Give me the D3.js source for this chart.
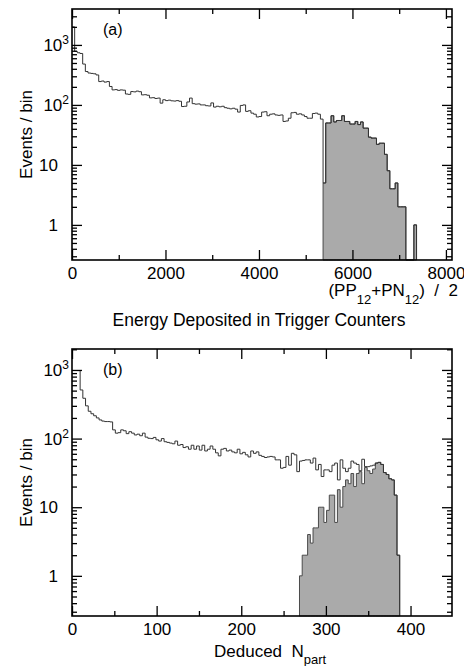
<!DOCTYPE html>
<html>
<head>
<meta charset="utf-8">
<script src="https://cdn.jsdelivr.net/npm/d3@7"></script>
<style>
body { margin: 0; background: #fff; }
svg text { font-family: "Liberation Sans", Arial, Helvetica, sans-serif; fill: #000; }
</style>
</head>
<body>
<div id="chart"></div>
<script>
// (a) energy in trigger counters, 140 bins over 0-8000
const energyBinWidth = 8000 / 140;
const energyAllEvents = [2000, 780, 740, 720, 480, 360, 340, 335, 330, 316,
    245, 250, 240, 245, 203, 178, 180, 175, 178, 176,
    152, 150, 167, 165, 170, 166, 147, 148, 145, 131,
    132, 128, 130, 107, 122, 118, 120, 117, 116, 118,
    115, 94, 95, 112, 130, 105, 103, 104, 100, 100,
    97, 96, 108, 92, 95, 93, 95, 90, 88, 86,
    88, 85, 76, 98, 100, 78, 80, 73, 70, 63,
    64, 76, 77, 66, 70, 71, 68, 67, 68, 53,
    54, 60, 74, 75, 70, 71, 68, 64, 60, 60,
    72, 73, 70, 58];
// central selection, starts at bin 94
const energyCentralFirstBin = 94;
const energyCentral = [5, 50, 50, 66, 52, 55, 55, 66, 53, 53,
    48, 48, 53, 47, 52, 41, 41, 29, 28, 28,
    22, 23, 23, 15, 8, 4, 4, 5, 2, 2,
    2, 0, 0, 0, 1];
const energyTicks = [0, 2000, 4000, 6000, 8000];
const energyMinorTicks = [1000, 3000, 5000, 7000];

// (b) deduced Npart, bin width 3.2
const nPartBinWidth = 3.2;
const nPartAllEvents = [0, 0, 980, 511, 387, 300, 250, 230, 215, 200,
    187, 180, 177, 177, 175, 134, 120, 122, 134, 130,
    118, 126, 120, 113, 116, 110, 120, 105, 101, 100,
    104, 96, 92, 100, 90, 88, 86, 84, 92, 80,
    82, 74, 76, 70, 80, 70, 78, 68, 80, 66,
    70, 78, 70, 62, 56, 70, 72, 66, 68, 64,
    62, 70, 60, 63, 58, 54, 66, 61, 64, 57,
    55, 53, 54, 55, 54, 49, 49, 37, 38, 55,
    41, 61, 58, 33, 47, 48, 49, 49, 44, 52,
    35, 42, 28, 35, 35, 33, 41, 44, 25, 49,
    37, 33, 37, 47, 44, 42, 34, 50, 39, 39,
    40, 41, 44, 45, 42, 32, 30, 26, 25, 15, 2];
const nPartCentralFirstBin = 84;
const nPartCentral = [1, 2, 2, 4, 3, 5, 5, 10, 10, 6,
    9, 15, 15, 6, 18, 10, 20, 25, 22, 31,
    20, 31, 33, 22, 38, 34, 31, 36, 44, 45,
    42, 32, 30, 26, 25, 15, 2];
const nPartTicks = [0, 100, 200, 300, 400];
const nPartMinorTicks = [50, 150, 250, 350];

const yMajorTicks = [1, 10, 100, 1000];

class LogHist {

    constructor(_config, _all, _central) {
        this.config = {
            parent: _config.parent,
            left: _config.left,
            top: _config.top,
            width: _config.width,
            height: _config.height,
            xMax: _config.xMax,
            yMin: _config.yMin,
            yMax: _config.yMax,
            binWidth: _config.binWidth,
            centralFirstBin: _config.centralFirstBin,
            xTicks: _config.xTicks,
            xMinorTicks: _config.xMinorTicks,
            tag: _config.tag
        }
        this.all = _all;
        this.central = _central;
        this.initVis();
    }

    initVis() {
        let vis = this;
        vis.width = vis.config.width;
        vis.height = vis.config.height;
        vis.xScale = d3.scaleLinear()
            .domain([0, vis.config.xMax])
            .range([0, vis.width]);
        vis.yScale = d3.scaleLog()
            .domain([vis.config.yMin, vis.config.yMax])
            .range([vis.height, 0]);
        vis.yv = (v) => v > 0 ? vis.yScale(v) : vis.height;

        vis.g = vis.config.parent.append('g')
            .attr('transform', `translate(${vis.config.left}, ${vis.config.top})`);

        // minor log ticks 2..9 per decade inside the domain
        vis.yMinor = [];
        for (let e = -1; e <= 3; e++) {
            for (let m = 2; m <= 9; m++) {
                const v = m * Math.pow(10, e);
                if (v > vis.config.yMin && v < vis.config.yMax) vis.yMinor.push(v);
            }
        }

        vis.chartG = vis.g.append('g');
        vis.axesG = vis.g.append('g');
        vis.drawAxes();
    }

    drawAxes() {
        let vis = this;
        const tickStyle = (g) => {
            g.select('.domain').remove();
            g.selectAll('.tick line').attr('stroke', '#000').attr('stroke-width', 1.3);
            g.attr('font-size', 17).attr('font-family', null);
        };

        // bottom
        vis.axesG.append('g')
            .attr('transform', `translate(0, ${vis.height})`)
            .call(d3.axisBottom(vis.xScale).tickValues(vis.config.xTicks)
                .tickSize(-10).tickPadding(7).tickFormat(d3.format('d')))
            .call(tickStyle);
        vis.axesG.append('g')
            .attr('transform', `translate(0, ${vis.height})`)
            .call(d3.axisBottom(vis.xScale).tickValues(vis.config.xMinorTicks)
                .tickSize(-5).tickFormat(''))
            .call(tickStyle);
        // top
        vis.axesG.append('g')
            .call(d3.axisTop(vis.xScale).tickValues(vis.config.xTicks)
                .tickSize(-10).tickFormat(''))
            .call(tickStyle);
        vis.axesG.append('g')
            .call(d3.axisTop(vis.xScale).tickValues(vis.config.xMinorTicks)
                .tickSize(-5).tickFormat(''))
            .call(tickStyle);
        // left
        vis.yAxisG = vis.axesG.append('g')
            .call(d3.axisLeft(vis.yScale).tickValues(yMajorTicks)
                .tickSize(-10).tickPadding(14).tickFormat(''))
            .call(tickStyle);
        vis.axesG.append('g')
            .call(d3.axisLeft(vis.yScale).tickValues(vis.yMinor)
                .tickSize(-5).tickFormat(''))
            .call(tickStyle);
        // right
        vis.axesG.append('g')
            .attr('transform', `translate(${vis.width}, 0)`)
            .call(d3.axisRight(vis.yScale).tickValues(yMajorTicks)
                .tickSize(-10).tickFormat(''))
            .call(tickStyle);
        vis.axesG.append('g')
            .attr('transform', `translate(${vis.width}, 0)`)
            .call(d3.axisRight(vis.yScale).tickValues(vis.yMinor)
                .tickSize(-5).tickFormat(''))
            .call(tickStyle);

        // 10^n labels with superscripts
        vis.yAxisG.selectAll('.tick text').each(function(d) {
            const t = d3.select(this);
            const e = Math.round(Math.log10(d));
            if (e <= 1) {
                t.text(e === 0 ? '1' : '10');
            } else {
                t.attr('x', -3);
                t.append('tspan').text('10');
                t.append('tspan').attr('dy', '-0.55em').attr('font-size', 12).text(e);
            }
        });

        vis.g.append('text')
            .attr('x', 31)
            .attr('y', 26)
            .attr('font-size', 16)
            .text(vis.config.tag);

        vis.config.parent.append('text')
            .attr('transform', `translate(${vis.config.left - 40.5}, ${vis.config.top + vis.height / 2}) rotate(-90)`)
            .attr('text-anchor', 'middle')
            .attr('font-size', 17)
            .text('Events / bin');
    }

    stepData(counts, firstBin) {
        let vis = this;
        const bw = vis.config.binWidth;
        let start = counts.findIndex((v) => v > 0);
        const pts = [];
        for (let i = start; i < counts.length; i++) {
            pts.push({x: (firstBin + i) * bw, v: counts[i]});
        }
        pts.push({x: (firstBin + counts.length) * bw, v: counts[counts.length - 1]});
        return pts;
    }

    updateVis() {
        let vis = this;
        // full histogram: where the central cut covers the bins, all events = central
        vis.total = vis.all.slice();
        vis.central.forEach((v, i) => {
            const k = vis.config.centralFirstBin + i;
            if (k >= vis.total.length) vis.total[k] = v;
        });
        vis.totalPts = vis.stepData(vis.total, 0);
        vis.totalPts.push({x: vis.totalPts[vis.totalPts.length - 1].x, v: 0});
        vis.centralPts = vis.stepData(vis.central, vis.config.centralFirstBin);
        vis.renderVis();
    }

    renderVis() {
        let vis = this;
        const area = d3.area()
            .x((d) => vis.xScale(d.x))
            .y0(vis.height)
            .y1((d) => vis.yv(d.v))
            .curve(d3.curveStepAfter);
        const line = d3.line()
            .x((d) => vis.xScale(d.x))
            .y((d) => vis.yv(d.v))
            .curve(d3.curveStepAfter);

        vis.chartG.append('path')
            .datum(vis.centralPts)
            .attr('d', area)
            .attr('fill', '#aaaaaa')
            .attr('stroke', '#4a4a4a')
            .attr('stroke-width', 1);
        vis.chartG.append('path')
            .datum(vis.totalPts)
            .attr('d', line)
            .attr('fill', 'none')
            .attr('stroke', '#333')
            .attr('stroke-width', 1);

        vis.g.append('rect')
            .attr('width', vis.width)
            .attr('height', vis.height)
            .attr('fill', 'none')
            .attr('stroke', '#000')
            .attr('stroke-width', 1.6);
    }
}

const svg = d3.select('#chart').append('svg')
    .attr('width', 464)
    .attr('height', 666);

const histA = new LogHist({
    parent: svg, left: 72, top: 9, width: 380, height: 251,
    xMax: 8130, yMin: 0.26, yMax: 3970,
    binWidth: energyBinWidth, centralFirstBin: energyCentralFirstBin,
    xTicks: energyTicks, xMinorTicks: energyMinorTicks, tag: '(a)'
}, energyAllEvents, energyCentral);
histA.updateVis();

const histB = new LogHist({
    parent: svg, left: 72, top: 349, width: 380, height: 267,
    xMax: 449, yMin: 0.26, yMax: 2020,
    binWidth: nPartBinWidth, centralFirstBin: nPartCentralFirstBin,
    xTicks: nPartTicks, xMinorTicks: nPartMinorTicks, tag: '(b)'
}, nPartAllEvents, nPartCentral);
histB.updateVis();

// axis titles
const ppLabel = svg.append('text')
    .attr('x', 458)
    .attr('y', 296)
    .attr('text-anchor', 'end')
    .attr('font-size', 17)
    .style('white-space', 'pre');
ppLabel.append('tspan').text('(PP');
ppLabel.append('tspan').attr('font-size', 13).attr('dy', 8).text('12');
ppLabel.append('tspan').attr('dy', -8).text('+PN');
ppLabel.append('tspan').attr('font-size', 13).attr('dy', 8).text('12');
ppLabel.append('tspan').attr('dy', -8).text(')  /  2');

svg.append('text')
    .attr('x', 259)
    .attr('y', 325.5)
    .attr('text-anchor', 'middle')
    .attr('font-size', 17.5)
    .text('Energy Deposited in Trigger Counters');

const npLabel = svg.append('text')
    .attr('x', 214)
    .attr('y', 657)
    .attr('font-size', 17)
    .style('white-space', 'pre');
npLabel.append('tspan').text('Deduced  N');
npLabel.append('tspan').attr('font-size', 13).attr('dy', 7).text('part');
</script>
</body>
</html>
